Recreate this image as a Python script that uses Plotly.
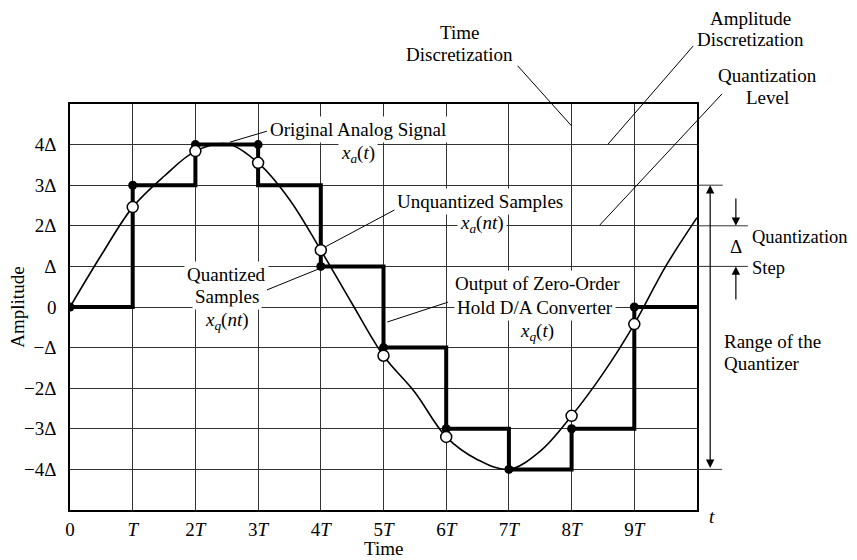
import plotly.graph_objects as go

# ---------------- data (T units on x, Δ units on y) ----------------
sample_n = [0, 1, 2, 3, 4, 5, 6, 7, 8, 9]
unquantized = [0, 2.46, 3.84, 3.55, 1.40, -1.20, -3.20, -4.00, -2.68, -0.42]
quantized = [0, 3, 4, 4, 1, -1, -3, -4, -3, 0]

hold_t = [0, 1, 2, 3, 4, 5, 6, 7, 8, 9, 10]
hold_level = [0, 3, 4, 3, 1, -1, -3, -4, -3, 0, 0]

analog_t = [0, 0.5, 1, 1.5, 2, 2.5, 3, 3.5, 4, 4.5, 5, 5.5, 6, 6.5, 7, 7.5,
            8, 8.5, 9, 9.5, 10]
analog_a = [0, 1.28, 2.46, 3.22, 3.84, 4.02, 3.55, 2.65, 1.40, 0.08, -1.2,
            -2.1, -3.2, -3.76, -4.0, -3.55, -2.68, -1.64, -0.42, 1.0, 2.2]

x_tickvals = [0, 1, 2, 3, 4, 5, 6, 7, 8, 9]
x_ticktext = ["0", "<i>T</i>", "2<i>T</i>", "3<i>T</i>", "4<i>T</i>", "5<i>T</i>",
              "6<i>T</i>", "7<i>T</i>", "8<i>T</i>", "9<i>T</i>"]
y_tickvals = [-4, -3, -2, -1, 0, 1, 2, 3, 4]
y_ticktext = ["\u22124\u0394", "\u22123\u0394", "\u22122\u0394", "\u2212\u0394", "0",
              "\u0394", "2\u0394", "3\u0394", "4\u0394"]

# ---------------- layout geometry ----------------
# the page adds an 8px body margin, so the figure is 8px smaller each way
W, H = 849, 552
ML, MR, MT, MB = 62, 160, 96, 50
XR = [0, 10]
YR = [-5, 5]
plot_h = H - MT - MB
ppu_y = plot_h / (YR[1] - YR[0])
FONT = "Liberation Serif"
FS = 19


def px(t):
    return (t - XR[0]) / (XR[1] - XR[0])


def py(a):
    return (a - YR[0]) / (YR[1] - YR[0])


# open circles only where the sample differs from its quantized level
circ_n = [n for n, u, q in zip(sample_n, unquantized, quantized) if u != q]
circ_v = [u for u, q in zip(unquantized, quantized) if u != q]

fig = go.Figure()

fig.add_trace(go.Scatter(x=analog_t, y=analog_a, mode="lines",
                         line=dict(color="black", width=1.6, shape="spline", smoothing=1.0),
                         hoverinfo="skip", showlegend=False))
fig.add_trace(go.Scatter(x=hold_t, y=hold_level, mode="lines",
                         line=dict(color="black", width=4, shape="hv"),
                         hoverinfo="skip", showlegend=False))
fig.add_trace(go.Scatter(x=sample_n, y=quantized, mode="markers",
                         marker=dict(symbol="circle", size=9, color="black"),
                         hoverinfo="skip", showlegend=False))
fig.add_trace(go.Scatter(x=circ_n, y=circ_v, mode="markers",
                         marker=dict(symbol="circle", size=11, color="white",
                                     line=dict(color="black", width=1.5)),
                         hoverinfo="skip", showlegend=False))

shapes = []
# leader lines (data units)
leaders = [
    ((7.14, 5.94), (8.0, 4.46)),     # Time Discretization
    ((9.94, 6.43), (8.58, 4.01)),    # Amplitude Discretization
    ((10.40, 5.25), (8.45, 2.02)),   # Quantization Level
    ((3.14, 4.33), (2.55, 4.06)),    # Original Analog Signal
    ((5.26, 2.46), (4.07, 1.48)),    # Unquantized Samples
    ((3.14, 0.42), (3.97, 0.94)),    # Quantized Samples
    ((6.03, 0.12), (5.06, -0.37)),   # Output of ZOH
]
for (t0, a0), (t1, a1) in leaders:
    shapes.append(dict(type="line", xref="paper", yref="paper",
                       x0=px(t0), y0=py(a0), x1=px(t1), y1=py(a1),
                       line=dict(color="black", width=1)))
# quantization levels extended beyond the grid
for lvl, t_end in [(3, 10.41), (2, 10.81), (1, 10.81), (-4, 10.40)]:
    shapes.append(dict(type="line", xref="paper", yref="paper",
                       x0=px(10), y0=py(lvl), x1=px(t_end), y1=py(lvl),
                       line=dict(color="#333333", width=1)))

ann = []


def label(text, t, a, xanchor="center", bg=None, angle=0, size=FS):
    d = dict(text=text, xref="paper", yref="paper", x=px(t), y=py(a),
             xanchor=xanchor, yanchor="middle", showarrow=False, textangle=angle,
             font=dict(family=FONT, size=size, color="black"))
    if bg:
        d.update(bgcolor=bg, borderpad=2)
    ann.append(d)


xa_t = "<i>x<sub>a</sub></i>(<i>t</i>)"
xa_nt = "<i>x<sub>a</sub></i>(<i>nt</i>)"
xq_nt = "<i>x<sub>q</sub></i>(<i>nt</i>)"
xq_t = "<i>x<sub>q</sub></i>(<i>t</i>)"

label("Time", 6.22, 6.77)
label("Discretization", 6.22, 6.23)
label("Amplitude", 10.86, 7.10)
label("Discretization", 10.86, 6.60)
label("Quantization", 11.12, 5.71)
label("Level", 11.12, 5.15)
label("Quantization", 10.84, 1.72, xanchor="left", size=18.5)
label("Step", 10.84, 0.96, xanchor="left", size=18.5)
label("\u0394", 10.62, 1.48)
label("Range of the", 10.40, -0.84, xanchor="left")
label("Quantizer", 10.40, -1.40, xanchor="left")
label("<i>t</i>", 10.24, -5.17)
label("Time", 5.0, -5.95)
label("Amplitude", -0.85, 0.0, angle=-90)
label("Original Analog Signal", 4.59, 4.38, bg="white")
label(xa_t, 4.59, 3.77, bg="white")
label("Unquantized Samples", 6.54, 2.59, bg="white")
label(xa_nt, 6.57, 2.04, bg="white")
label("Quantized", 2.50, 0.81, bg="white")
label("Samples", 2.50, 0.25, bg="white")
label(xq_nt, 2.50, -0.34, bg="white")
label("Output of Zero-Order", 7.45, 0.57, bg="white")
label("Hold D/A Converter", 7.42, -0.02, bg="white")
label(xq_t, 7.45, -0.62, bg="white")

# arrows
arrow_common = dict(xref="paper", yref="paper", text="", showarrow=True,
                    axref="pixel", ayref="pixel", arrowcolor="black",
                    arrowwidth=1.2, arrowhead=2, arrowsize=1.4, standoff=0,
                    startstandoff=0)
ann.append(dict(arrow_common, x=px(10.62), y=py(2.0), ax=0, ay=-(2.71 - 2.0) * ppu_y))
ann.append(dict(arrow_common, x=px(10.62), y=py(1.0), ax=0, ay=(1.0 - 0.15) * ppu_y))
ann.append(dict(arrow_common, x=px(10.21), y=py(3.0), ax=0, ay=(3.0 - (-4.0)) * ppu_y,
                arrowside="end+start", startarrowhead=2, startarrowsize=1.4))

fig.update_layout(
    width=W, height=H,
    margin=dict(l=ML, r=MR, t=MT, b=MB, autoexpand=False),
    paper_bgcolor="white", plot_bgcolor="white",
    font=dict(family=FONT, size=FS, color="black"),
    shapes=shapes, annotations=ann, showlegend=False,
)
fig.update_xaxes(range=XR, tickvals=x_tickvals, ticktext=x_ticktext,
                 showgrid=True, gridcolor="#333333", gridwidth=1, zeroline=False,
                 showline=True, mirror=True, linecolor="black", linewidth=1.5,
                 ticks="", ticklabelstandoff=1, automargin=False,
                 tickfont=dict(family=FONT, size=FS, color="black"))
fig.update_yaxes(range=YR, tickvals=y_tickvals, ticktext=y_ticktext,
                 showgrid=True, gridcolor="#333333", gridwidth=1, zeroline=False,
                 showline=True, mirror=True, linecolor="black", linewidth=1.5,
                 ticks="", ticklabelstandoff=8, automargin=False,
                 tickfont=dict(family=FONT, size=FS, color="black"))

fig.write_html("out.html")
